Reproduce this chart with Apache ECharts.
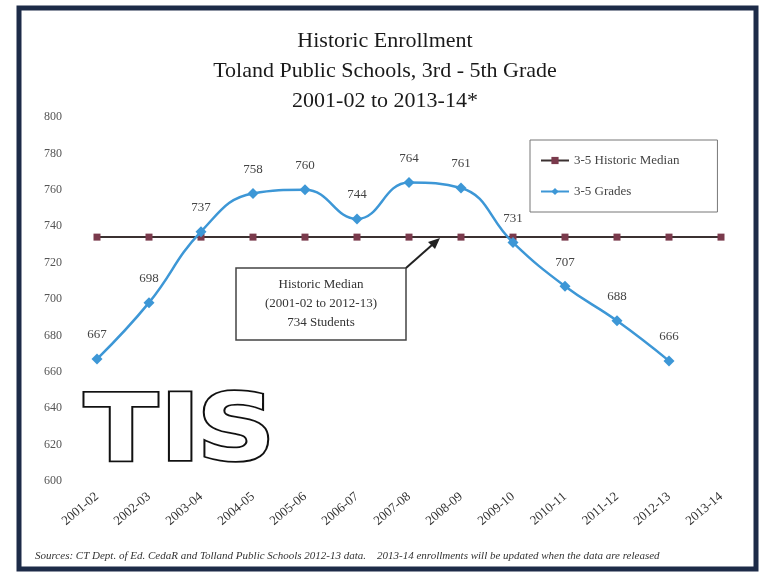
<!DOCTYPE html>
<html>
<head>
<meta charset="utf-8">
<script src="https://cdn.jsdelivr.net/npm/echarts@6/dist/echarts.min.js"></script>
<style>
  html, body { margin: 0; padding: 0; background: #fff; }
  #main { width: 770px; height: 578px; }
</style>
</head>
<body>
<div id="main"></div>
<script>
var chart = echarts.init(document.getElementById('main'));

// school years on the x axis
var years = ['2001-02', '2002-03', '2003-04', '2004-05', '2005-06', '2006-07', '2007-08',
             '2008-09', '2009-10', '2010-11', '2011-12', '2012-13', '2013-14'];
// 3-5 enrollment, 2013-14 not yet released
var grades = [667, 698, 737, 758, 760, 744, 764, 761, 731, 707, 688, 666, null];
// historic median 2001-02 to 2012-13
var median = [734, 734, 734, 734, 734, 734, 734, 734, 734, 734, 734, 734, 734];

var serif = 'Liberation Serif';

// outlined logo letters
function logoLetter(ch, x) {
    return {
        type: 'text',
        x: x,
        y: 390,
        scaleX: 1.18,
        style: {
            text: ch,
            fontFamily: 'DejaVu Sans',
            fontWeight: 'bold',
            fontSize: 92,
            fill: '#fff',
            stroke: '#111',
            lineWidth: 3.5
        },
        z: 5
    };
}

var option = {
    backgroundColor: '#fff',
    title: {
        text: 'Historic Enrollment\nToland Public Schools, 3rd - 5th Grade\n2001-02 to 2013-14*',
        left: 'center',
        top: 21,
        textStyle: {
            fontFamily: serif,
            fontSize: 22,
            fontWeight: 'normal',
            color: '#1a1a1a',
            lineHeight: 30
        }
    },
    legend: {
        orient: 'vertical',
        left: 530,
        top: 140,
        padding: [14, 38, 14, 10],
        itemGap: 18,
        itemWidth: 28,
        itemHeight: 9,
        borderColor: '#777',
        borderWidth: 1,
        textStyle: { fontFamily: serif, fontSize: 13, color: '#444' },
        data: ['3-5 Historic Median', '3-5 Grades']
    },
    grid: { left: 97, right: 49, top: 117, bottom: 97 },
    xAxis: {
        type: 'category',
        data: years,
        boundaryGap: false,
        axisLine: { show: false },
        axisTick: { show: false },
        axisLabel: {
            rotate: 40,
            margin: 14,
            fontFamily: serif,
            fontSize: 13,
            color: '#333'
        }
    },
    yAxis: {
        type: 'value',
        min: 600,
        max: 800,
        interval: 20,
        axisLine: { show: false },
        axisTick: { show: false },
        splitLine: { show: false },
        axisLabel: {
            margin: 35,
            fontFamily: serif,
            fontSize: 12,
            color: '#555'
        }
    },
    series: [
        {
            name: '3-5 Historic Median',
            type: 'line',
            data: median,
            symbol: 'rect',
            symbolSize: 7,
            itemStyle: { color: '#7a3a4c' },
            lineStyle: { color: '#3b3131', width: 2 },
            z: 2
        },
        {
            name: '3-5 Grades',
            type: 'line',
            data: grades,
            smooth: 0.45,
            symbol: 'diamond',
            symbolSize: 11,
            itemStyle: { color: '#3d97d6' },
            lineStyle: { color: '#3d97d6', width: 2.5 },
            label: {
                show: true,
                position: 'top',
                distance: 12,
                fontFamily: serif,
                fontSize: 13,
                color: '#444'
            },
            z: 3
        }
    ],
    graphic: [
        // photo frame
        {
            type: 'rect',
            shape: { x: 19, y: 8, width: 737, height: 561 },
            style: { fill: 'none', stroke: '#1d2b48', lineWidth: 5 },
            silent: true
        },
        // annotation box
        {
            type: 'rect',
            shape: { x: 236, y: 268, width: 170, height: 72 },
            style: { fill: '#fff', stroke: '#444', lineWidth: 1.5 },
            z: 10
        },
        {
            type: 'text',
            x: 321,
            y: 275,
            style: {
                text: 'Historic Median\n(2001-02 to 2012-13)\n734 Students',
                fontFamily: serif,
                fontSize: 13,
                lineHeight: 19,
                fill: '#333',
                align: 'center'
            },
            z: 11
        },
        // arrow to median line
        {
            type: 'line',
            shape: { x1: 406, y1: 268, x2: 432, y2: 245 },
            style: { stroke: '#222', lineWidth: 2 },
            z: 10
        },
        {
            type: 'polygon',
            shape: { points: [[440, 238], [428, 242], [435, 249]] },
            style: { fill: '#222' },
            z: 10
        },
        // TIS logo
        logoLetter('T', 84),
        logoLetter('I', 160),
        logoLetter('S', 197),
        // source footnote
        {
            type: 'text',
            x: 35,
            y: 551,
            style: {
                text: 'Sources: CT Dept. of Ed. CedaR and Tolland Public Schools 2012-13 data.    2013-14 enrollments will be updated when the data are released',
                fontFamily: serif,
                fontStyle: 'italic',
                fontSize: 11,
                fill: '#333'
            }
        }
    ]
};
chart.setOption(option);
</script>
</body>
</html>
